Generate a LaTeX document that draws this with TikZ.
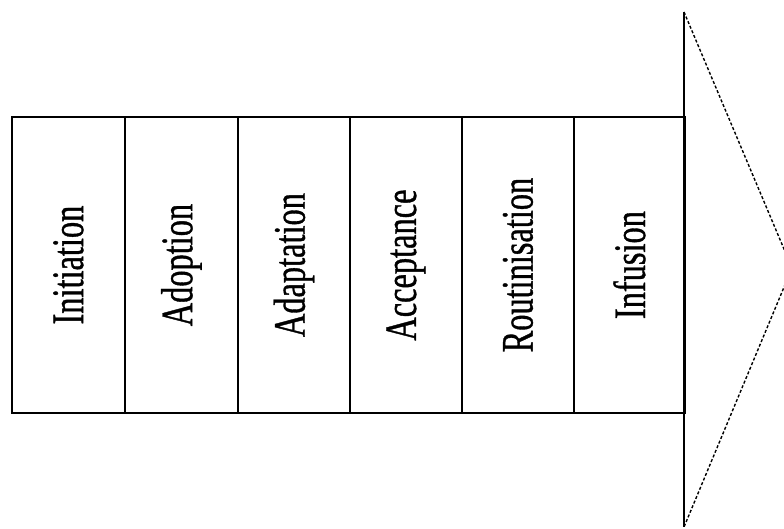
\documentclass[tikz,border=0pt]{standalone}
\usepackage{graphicx}
\usepackage{fontspec}
\setmainfont{Liberation Serif}
\newfontfamily\stagefont[FakeStretch=0.72,FakeBold=0.8]{Liberation Serif}
\begin{document}
\begin{tikzpicture}[x=1pt,y=1pt,
  stagebox/.style={draw, line width=1.8pt, minimum height=296pt, anchor=south west,
    inner sep=0pt, font=\stagefont\fontsize{45}{45}\selectfont},
  arrowstem/.style={line width=2.8pt},
  arrowside/.style={line width=1.4pt, dash pattern=on 3pt off 2pt}]
\useasboundingbox (0,0) rectangle (784,529);
\node[stagebox, minimum width=113pt] (b1) at (11,115) {\rotatebox{90}{Initiation}};
\node[stagebox, minimum width=113pt] (b2) at (124,115) {\rotatebox{90}{Adoption}};
\node[stagebox, minimum width=112pt] (b3) at (237,115) {\rotatebox{90}{Adaptation}};
\node[stagebox, minimum width=112pt] (b4) at (349,115) {\rotatebox{90}{Acceptance}};
\node[stagebox, minimum width=112pt] (b5) at (461,115) {\rotatebox{90}{Routinisation}};
\node[stagebox, minimum width=111pt] (b6) at (573,115) {\rotatebox{90}{Infusion}};
\coordinate (atop) at (684,517);
\coordinate (abot) at (684,2);
\coordinate (atip) at (792,261);
\draw[arrowstem] (atop) -- (abot);
\draw[arrowside] (atop) -- (atip) -- (abot);
\end{tikzpicture}
\end{document}
